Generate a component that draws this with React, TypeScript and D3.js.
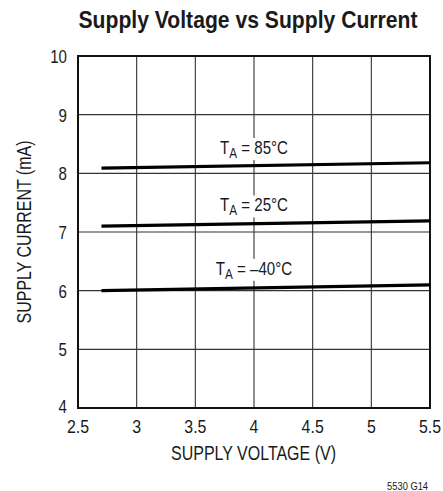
import React, { useEffect, useRef } from "react";
import * as d3 from "d3";

const voltage = [2.7, 5.5];
const currentM40 = [6.0, 6.1];
const current25 = [7.1, 7.19];
const current85 = [8.09, 8.18];
const xTicks = [2.5, 3, 3.5, 4, 4.5, 5, 5.5];
const yTicks = [4, 5, 6, 7, 8, 9, 10];
const curveLabels = [
  { temp: "85°C", at: 4, value: 8.33 },
  { temp: "25°C", at: 4, value: 7.35 },
  { temp: "–40°C", at: 4, value: 6.27 },
];

const FONT = "'Liberation Sans', Arial, sans-serif";
const INK = "#1a1a1a";

const App = () => {
  const ref = useRef<SVGSVGElement>(null);

  useEffect(() => {
    const svg = d3.select(ref.current);
    svg.selectAll("*").remove();

    const left = 78, right = 430, top = 56, bottom = 408;
    const x = d3.scaleLinear().domain([2.5, 5.5]).range([left, right]);
    const y = d3.scaleLinear().domain([4, 10]).range([bottom, top]);

    // condensed text helper
    const ctext = (px: number, py: number, size: number, sx: number, anchor: string, rot = 0) =>
      svg.append("g")
        .attr("transform", `translate(${px},${py}) rotate(${rot}) scale(${sx},1)`)
        .append("text")
        .attr("text-anchor", anchor)
        .attr("font-family", FONT).attr("font-size", size).attr("fill", INK);

    ctext(248, 28, 23, 0.92, "middle")
      .attr("font-weight", "bold")
      .text("Supply Voltage vs Supply Current");

    // grid
    const grid = svg.append("g").attr("stroke", "#333").attr("stroke-width", 1.1);
    grid.selectAll("line.v").data(xTicks.slice(1, -1)).join("line")
      .attr("x1", d => x(d)).attr("x2", d => x(d))
      .attr("y1", top).attr("y2", bottom);
    grid.selectAll("line.h").data(yTicks.slice(1, -1)).join("line")
      .attr("y1", d => y(d)).attr("y2", d => y(d))
      .attr("x1", left).attr("x2", right);

    svg.append("rect")
      .attr("x", left).attr("y", top)
      .attr("width", right - left).attr("height", bottom - top)
      .attr("fill", "none").attr("stroke", "#111").attr("stroke-width", 2);

    // curve labels with white knockout behind
    curveLabels.forEach(l => {
      const cx = x(l.at), by = y(l.value);
      const w = l.temp.length > 4 ? 84 : 76;
      svg.append("rect")
        .attr("x", cx - w / 2).attr("y", by - 16)
        .attr("width", w).attr("height", 22)
        .attr("fill", "#fff");
      const t = ctext(cx, by, 18, 0.84, "middle");
      t.append("tspan").text("T");
      t.append("tspan").attr("dy", 4).attr("font-size", 14).text("A");
      t.append("tspan").attr("dy", -4).text(" = " + l.temp);
    });

    // curves
    const line = d3.line<number>().x((_, i) => x(voltage[i])).y(d => y(d));
    [current85, current25, currentM40].forEach(s => {
      svg.append("path")
        .attr("d", line(s))
        .attr("fill", "none").attr("stroke", "#000").attr("stroke-width", 3.2);
    });

    // tick labels
    xTicks.forEach(d => {
      ctext(x(d), 433, 18.5, 0.86, "middle").text(d3.format("")(d));
    });
    yTicks.forEach(d => {
      ctext(67, y(d) + (d === 4 ? 5 : 7), 18, 0.84, "end").text(String(d));
    });

    ctext(x(4) - 0.5, 460, 20.5, 0.78, "middle").text("SUPPLY VOLTAGE (V)");
    ctext(31, (top + bottom) / 2, 20.5, 0.78, "middle", -90).text("SUPPLY CURRENT (mA)");

    ctext(428, 490, 11.5, 0.81, "end").text("5530 G14");
  }, []);

  return (
    <svg ref={ref} width={443} height={491}
      style={{ position: "absolute", left: 0, top: 0, background: "#fff" }} />
  );
};

export default App;
